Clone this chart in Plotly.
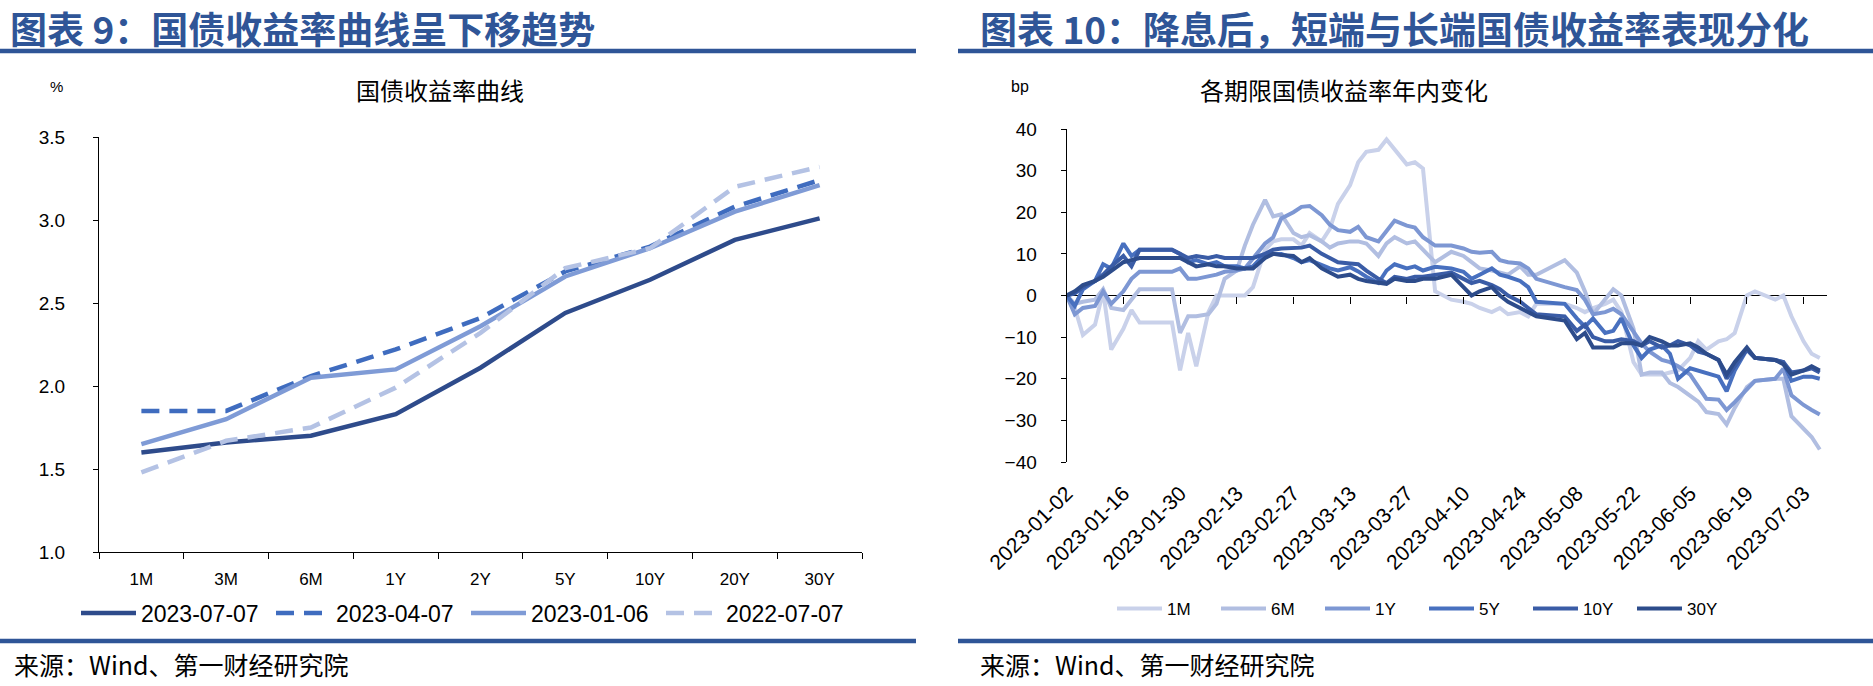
import plotly.graph_objects as go

# ---------------- Left chart data ----------------
tenors = ['1M', '3M', '6M', '1Y', '2Y', '5Y', '10Y', '20Y', '30Y']
curve_names = ['2023-07-07', '2023-04-07', '2023-01-06', '2022-07-07']
curve_20230707 = [1.60, 1.66, 1.70, 1.83, 2.11, 2.44, 2.64, 2.88, 3.01]
curve_20230407 = [1.85, 1.85, 2.06, 2.22, 2.41, 2.69, 2.84, 3.08, 3.24]
curve_20230106 = [1.65, 1.80, 2.05, 2.10, 2.36, 2.66, 2.83, 3.05, 3.21]
curve_20220707 = [1.48, 1.67, 1.75, 1.99, 2.32, 2.71, 2.83, 3.20, 3.32]

# ---------------- Right chart data ----------------
rate_dates = [
    '2023-01-02', '2023-01-04', '2023-01-06', '2023-01-09', '2023-01-11', '2023-01-13',
    '2023-01-16', '2023-01-18', '2023-01-20', '2023-01-28', '2023-01-30', '2023-02-01',
    '2023-02-03', '2023-02-06', '2023-02-08', '2023-02-10', '2023-02-13', '2023-02-15',
    '2023-02-17', '2023-02-20', '2023-02-22', '2023-02-24', '2023-02-27', '2023-03-01',
    '2023-03-03', '2023-03-06', '2023-03-08', '2023-03-10', '2023-03-13', '2023-03-15',
    '2023-03-17', '2023-03-20', '2023-03-22', '2023-03-24', '2023-03-27', '2023-03-29',
    '2023-03-31', '2023-04-03', '2023-04-07', '2023-04-10', '2023-04-12', '2023-04-14',
    '2023-04-17', '2023-04-19', '2023-04-21', '2023-04-24', '2023-04-26', '2023-04-28',
    '2023-05-05', '2023-05-08', '2023-05-10', '2023-05-12', '2023-05-15', '2023-05-17',
    '2023-05-19', '2023-05-22', '2023-05-24', '2023-05-26', '2023-05-29', '2023-05-31',
    '2023-06-02', '2023-06-05', '2023-06-07', '2023-06-09', '2023-06-12', '2023-06-14',
    '2023-06-16', '2023-06-19', '2023-06-21', '2023-06-26', '2023-06-28', '2023-06-30',
    '2023-07-03', '2023-07-05', '2023-07-07']

chg_1M = [0, -3, -9.5, -7, 1, -13,
          -8, -3.5, -6.5,
          -6.5, -18, -9, -17,
          -4, 0, 0,
          0, 0, 2,
          11, 13, 13.5,
          13.5, 12, 15,
          13, 16, 22,
          26.5, 32, 34.5,
          35, 37.5, 35,
          31.5, 32, 30.5,
          1, -1,
          -1.5, -2, -3,
          -4, -3, -4.5,
          -4, -5, -2,
          -2,
          -3, -4, -3,
          -2, -1, -4,
          -16, -19, -19,
          -19, -18.5, -18,
          -15, -11, -13,
          -11, -10.5, -9,
          0, 1,
          -1, 0, -5,
          -11, -14, -15]

chg_6M = [0, -2, -1.5, -1, 1.5, -3,
          -3.5, -1, 1.5,
          1.5, -9, -5, -5,
          -4.5, -2, 4,
          6, 12, 17,
          23, 19, 19.5,
          15, 14, 14.5,
          13, 11.5, 12.5,
          13, 13, 12.5,
          9.5, 12.5, 14,
          12.5, 13, 11,
          8, 10.5,
          9.5, 8, 6.5,
          6, 5.5, 5,
          7, 5, 5,
          8.5,
          5.5, 1, -4.5,
          -1, 1.5, 0,
          -8, -19, -18.5,
          -18.5, -21, -22,
          -24, -25.5, -28,
          -28.5, -31, -27,
          -22, -20.5,
          -20, -20, -29,
          -32, -34, -37]

chg_1Y = [0, -4.5, -3, -2.5, 1, -2,
          1, 4, 5.7,
          5.7, 6.5, 4, 4,
          4.5, 5, 5.7,
          6, 6.5, 9,
          12.5, 14, 18.5,
          20, 21.3, 21.5,
          19.3, 17, 15.7,
          15.3, 16.5, 14,
          13, 15.5, 18,
          16.8, 16.3, 14,
          12, 12,
          11.3, 10.5, 10.3,
          10.5, 8.5, 8,
          7.7, 6.5, 4,
          2,
          1.3, -1, -4.5,
          -4, -3.2, -4.5,
          -8.5, -11.5, -13.5,
          -15.5, -16, -17,
          -19, -22, -24.8,
          -25, -27.5, -25.6,
          -22.5, -20.5,
          -20, -17.6, -24,
          -26.3, -27.5, -28.6]

chg_5Y = [0, -2.5, 1.5, 3.5, 7.5, 6.5,
          12.5, 9.5, 11,
          11, 10, 8, 8.5,
          7.5, 8, 7,
          7, 6.5, 7,
          10, 10, 10,
          9, 8, 8.5,
          7.3, 6.5, 6,
          6.8, 5.8, 4.5,
          3, 6, 7.5,
          6.5, 7, 6,
          6.9, 6.5,
          5.7, 4, 5,
          6.5, 5, 4.5,
          3.5, 2, -1.5,
          -2,
          -5.5, -7.5, -5.5,
          -9, -8.5, -5.5,
          -12, -15, -13,
          -12, -14, -20,
          -17.5, -18, -18.5,
          -19.5, -23, -18,
          -13, -15,
          -15.5, -16, -20.5,
          -19.5, -19.5, -20]

chg_10Y = [0, 0.5, 2, 3.5, 5, 7,
           9.5, 7, 11,
           11, 10, 9, 9.5,
           9, 9.5, 9,
           9, 9, 9,
           10, 11, 11.3,
           11.3, 11.5, 12,
           10, 9, 8,
           7.7, 7.5, 6,
           4, 3, 4.5,
           4, 4.5, 4.5,
           5, 5.5,
           4, 3, 3.5,
           2.5, 1.5, 0,
           -1.5, -3, -4.5,
           -5,
           -8.5, -7, -10,
           -11, -11, -10.5,
           -11, -12, -11,
           -12.5, -12, -11,
           -12, -13.5, -14,
           -15.5, -20, -17,
           -13, -15,
           -15.5, -16, -18.5,
           -18, -17.5, -18.5]

chg_30Y = [0, 1, 2.5, 3.5, 4.5, 6,
           8, 8.5, 9,
           9, 9, 8, 7,
           7.5, 7, 7,
           6.5, 6.5, 6.5,
           9, 10, 9.7,
           9.5, 8, 9,
           6.5, 5.5, 4.5,
           5, 4, 3.5,
           3, 2.8, 4,
           3.5, 3.5, 4,
           4, 5,
           2, 0, 1,
           2, 0, -1.5,
           -3, -4, -5,
           -6,
           -10.5, -9, -12.5,
           -12.5, -12.5, -11.5,
           -11.5, -12, -10,
           -11, -12, -12,
           -11.5, -12.5, -14,
           -15.5, -19, -16,
           -12.5, -15,
           -15.5, -16.5, -19,
           -18, -17, -18]

rate_tick_dates = ['2023-01-02', '2023-01-16', '2023-01-30', '2023-02-13', '2023-02-27',
                   '2023-03-13', '2023-03-27', '2023-04-10', '2023-04-24', '2023-05-08',
                   '2023-05-22', '2023-06-05', '2023-06-19', '2023-07-03']
rate_names = ['1M', '6M', '1Y', '5Y', '10Y', '30Y']

# ---------------- Styling ----------------
W, H = 1873, 686
BLUE = '#2F5597'
LATIN = 'Liberation Sans, Arial, sans-serif'
CJK = 'Noto Sans CJK SC, sans-serif'


def px_x(v):
    return v / W


def px_y(v):
    return (H - v) / H


fig = go.Figure()

left_colors = ['#2E4B8B', '#3F6CBF', '#7F9BD6', '#B4C2E4']
left_dash = ['solid', '18px,10px', 'solid', '18px,10px']
for name, ys, c, d in zip(curve_names,
                          [curve_20230707, curve_20230407, curve_20230106, curve_20220707],
                          left_colors, left_dash):
    fig.add_trace(go.Scatter(x=tenors, y=ys, name=name, mode='lines',
                             line=dict(color=c, width=4.5, dash=d),
                             xaxis='x', yaxis='y', legend='legend'))

right_colors = ['#C9D1EA', '#B1BEE1', '#7D97D3', '#4870BF', '#3A5CA6', '#2D4C8B']
for name, ys, c in zip(rate_names, [chg_1M, chg_6M, chg_1Y, chg_5Y, chg_10Y, chg_30Y], right_colors):
    fig.add_trace(go.Scatter(x=rate_dates, y=ys, name=name, mode='lines',
                             line=dict(color=c, width=4),
                             xaxis='x2', yaxis='y2', legend='legend2'))

# invisible carrier so the zero-line tick axis is drawn
fig.add_trace(go.Scatter(x=rate_dates, y=chg_30Y, mode='lines', line=dict(width=0),
                         opacity=0, showlegend=False, hoverinfo='skip',
                         xaxis='x3', yaxis='y2'))

x_range = ['2023-01-02', '2023-07-08 19:00']
ydom2 = [px_y(462), px_y(129)]
zero_pos = (ydom2[0] + ydom2[1]) / 2

fig.update_layout(
    width=W, height=H, autosize=False,
    margin=dict(l=0, r=0, t=0, b=0, autoexpand=False),
    paper_bgcolor='white', plot_bgcolor='white',
    showlegend=True,
    xaxis=dict(domain=[px_x(99), px_x(862)], anchor='y', type='category',
               range=[-0.5, len(tenors) - 0.5], automargin=False,
               showline=True, linecolor='black', linewidth=1.2,
               ticks='outside', tickson='boundaries', ticklen=6, tickcolor='black',
               showgrid=False, zeroline=False,
               tickfont=dict(family=LATIN, size=17, color='black'),
               ticklabelstandoff=11),
    yaxis=dict(domain=[px_y(552), px_y(137)], anchor='x', range=[1.0, 3.5], dtick=0.5,
               tickformat='.1f', showline=True, linecolor='black', linewidth=1.2,
               automargin=False,
               ticks='outside', ticklen=5, tickcolor='black', showgrid=False, zeroline=False,
               tickfont=dict(family=LATIN, size=19, color='black'),
               ticklabelstandoff=24),
    xaxis2=dict(domain=[px_x(1066.7), px_x(1827)], anchor='y2', type='date', range=x_range,
                tickvals=rate_tick_dates, ticktext=rate_tick_dates, tickangle=-45,
                automargin=False,
                showline=False, ticks='', showgrid=False, zeroline=False,
                tickfont=dict(family=LATIN, size=21, color='black'),
                ticklabelstandoff=14),
    xaxis3=dict(overlaying='x2', anchor='free', position=zero_pos, type='date', range=x_range,
                tickvals=rate_tick_dates, showticklabels=False, showline=False,
                automargin=False,
                ticks='outside', ticklen=7, tickcolor='black', tickwidth=1.2,
                showgrid=False, zeroline=False, side='bottom'),
    yaxis2=dict(domain=ydom2, anchor='x2', range=[-40, 40], dtick=10,
                showline=True, linecolor='black', linewidth=1.2, automargin=False,
                ticks='outside', ticklen=5, tickcolor='black', showgrid=False,
                zeroline=True, zerolinecolor='black', zerolinewidth=1.2,
                tickfont=dict(family=LATIN, size=19, color='black'),
                ticklabelstandoff=20),
    legend=dict(orientation='h', x=px_x(76), y=px_y(613), xanchor='left', yanchor='middle',
                font=dict(family=LATIN, size=23, color='black'),
                itemwidth=55,
                entrywidth=125, entrywidthmode='pixels', bgcolor='rgba(0,0,0,0)'),
    legend2=dict(orientation='h', x=px_x(1112), y=px_y(609), xanchor='left', yanchor='middle',
                 font=dict(family=LATIN, size=17, color='black'),
                 itemwidth=45,
                 entrywidth=44, entrywidthmode='pixels', bgcolor='rgba(0,0,0,0)'),
)

# title bars and bottom bars
for x0, x1 in [(0, 916), (958, W)]:
    fig.add_shape(type='line', xref='paper', yref='paper', x0=px_x(x0), x1=px_x(x1),
                  y0=px_y(51), y1=px_y(51), line=dict(color=BLUE, width=4.5))
    fig.add_shape(type='line', xref='paper', yref='paper', x0=px_x(x0), x1=px_x(x1),
                  y0=px_y(641), y1=px_y(641), line=dict(color=BLUE, width=4.5))

annos = [
    dict(text='<b>图表 9：国债收益率曲线呈下移趋势</b>', x=px_x(8), y=px_y(28), xanchor='left',
         font=dict(family=CJK, size=37, color=BLUE)),
    dict(text='<b>图表 10：降息后，短端与长端国债收益率表现分化</b>', x=px_x(978), y=px_y(28),
         xanchor='left', font=dict(family=CJK, size=37, color=BLUE)),
    dict(text='国债收益率曲线', x=px_x(440), y=px_y(90), xanchor='center',
         font=dict(family=CJK, size=24, color='black')),
    dict(text='各期限国债收益率年内变化', x=px_x(1344), y=px_y(90), xanchor='center',
         font=dict(family=CJK, size=24, color='black')),
    dict(text='%', x=px_x(56), y=px_y(87), xanchor='center',
         font=dict(family=LATIN, size=15, color='black')),
    dict(text='bp', x=px_x(1020), y=px_y(87), xanchor='center',
         font=dict(family=LATIN, size=16, color='black')),
    dict(text='来源：Wind、第一财经研究院', x=px_x(12), y=px_y(664), xanchor='left',
         font=dict(family=CJK, size=25, color='black')),
    dict(text='来源：Wind、第一财经研究院', x=px_x(978), y=px_y(664), xanchor='left',
         font=dict(family=CJK, size=25, color='black')),
]
for a in annos:
    fig.add_annotation(xref='paper', yref='paper', showarrow=False, yanchor='middle', **a)

fig.write_html('out.html', config={'displayModeBar': False},
               post_script="document.body.style.margin='0';document.body.style.overflow='hidden';")
